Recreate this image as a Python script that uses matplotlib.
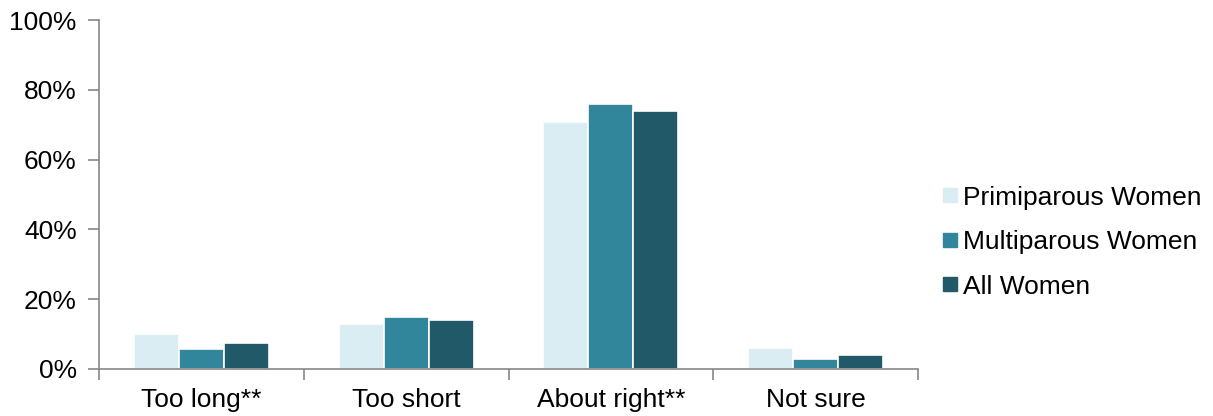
import numpy as np
import matplotlib.pyplot as plt
from matplotlib.lines import Line2D
from matplotlib.ticker import FuncFormatter

plt.rcParams['font.family'] = ['Liberation Sans', 'DejaVu Sans']

categories = ['Too long**', 'Too short', 'About right**', 'Not sure']
series_names = ['Primiparous Women', 'Multiparous Women', 'All Women']
primiparous = [10.0, 12.8, 70.7, 5.9]
multiparous = [5.6, 14.8, 76.0, 2.9]
all_women = [7.5, 13.9, 73.8, 4.0]
colors = ['#DAEDF3', '#31869B', '#215968']

fig = plt.figure(figsize=(12.13, 4.16), dpi=100)
ax = fig.add_axes([99 / 1213, 47 / 416, 819 / 1213, 349 / 416])

x = np.arange(len(categories))
width = 0.22
for i, (vals, col) in enumerate(zip([primiparous, multiparous, all_women], colors)):
    ax.bar(x + (i - 1) * width, vals, width, color=col, edgecolor='white', linewidth=1.2)

ax.set_xlim(-0.5, len(categories) - 0.5)
ax.set_ylim(0, 100)
ax.set_yticks(range(0, 101, 20))
ax.yaxis.set_major_formatter(FuncFormatter(lambda v, _: f'{v:.0f}%'))

# category labels centred, tick marks at group boundaries
ax.set_xticks(np.arange(-0.5, len(categories)), minor=False)
ax.set_xticklabels([])
ax.set_xticks(x, minor=True)
ax.set_xticklabels(categories, minor=True)
ax.tick_params(axis='x', which='minor', length=0, pad=14, labelsize=19)
ax.tick_params(axis='x', which='major', length=8, width=1.2, color='#868686')
ax.tick_params(axis='y', length=8, width=1.2, color='#868686', labelsize=19, pad=8)

for side in ['top', 'right']:
    ax.spines[side].set_visible(False)
for side in ['left', 'bottom']:
    ax.spines[side].set_color('#868686')
    ax.spines[side].set_linewidth(1.2)

handles = [Line2D([], [], marker='s', linestyle='none', markersize=10,
                  markerfacecolor=c, markeredgecolor=c) for c in colors]
fig.legend(handles, series_names, loc='center left', bbox_to_anchor=(939 / 1213, 0.418),
           frameon=False, fontsize=19, handletextpad=0.1, handlelength=0.8,
           labelspacing=0.78, borderaxespad=0, borderpad=0)

fig.savefig('out.png', dpi=100)
